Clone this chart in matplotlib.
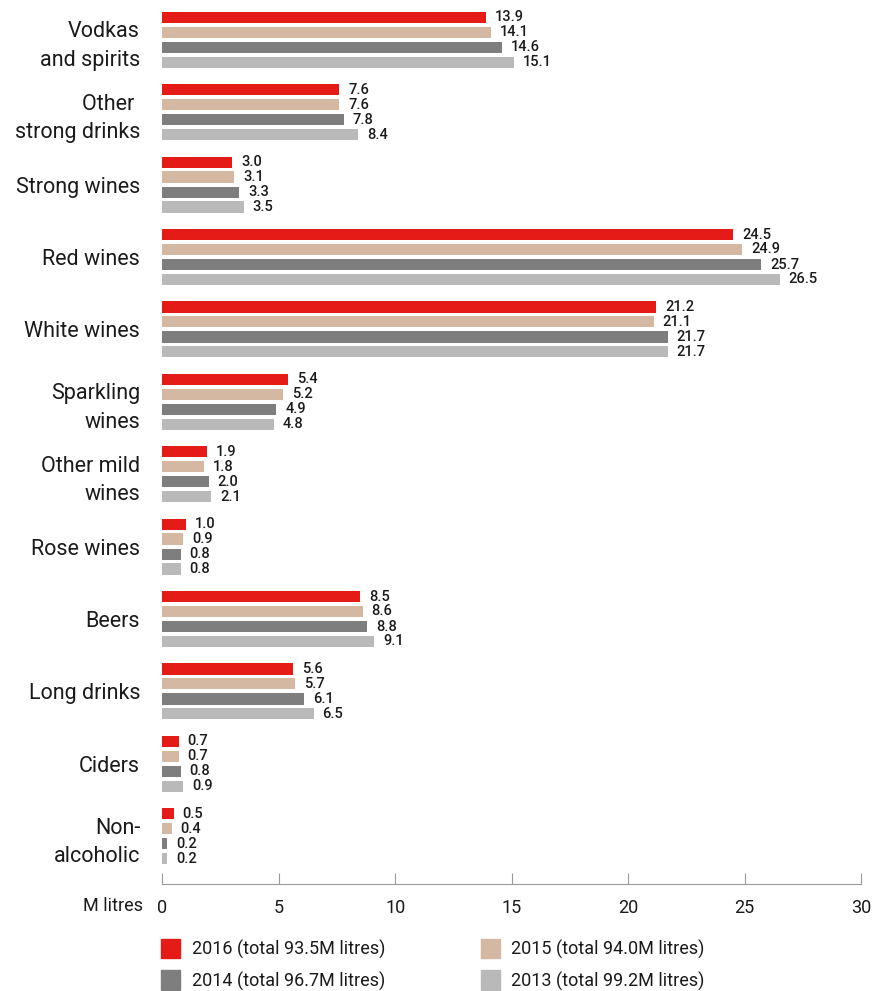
import numpy as np
import matplotlib.pyplot as plt
from matplotlib.patches import Patch

plt.rcParams['font.family'] = ['Roboto', 'DejaVu Sans']

categories = ["Vodkas\nand spirits", "Other \nstrong drinks", "Strong wines", "Red wines",
              "White wines", "Sparkling\nwines", "Other mild\nwines", "Rose wines",
              "Beers", "Long drinks", "Ciders", "Non-\nalcoholic"]
v2016 = [13.9, 7.6, 3.0, 24.5, 21.2, 5.4, 1.9, 1.0, 8.5, 5.6, 0.7, 0.5]
v2015 = [14.1, 7.6, 3.1, 24.9, 21.1, 5.2, 1.8, 0.9, 8.6, 5.7, 0.7, 0.4]
v2014 = [14.6, 7.8, 3.3, 25.7, 21.7, 4.9, 2.0, 0.8, 8.8, 6.1, 0.8, 0.2]
v2013 = [15.1, 8.4, 3.5, 26.5, 21.7, 4.8, 2.1, 0.8, 9.1, 6.5, 0.9, 0.2]
series_labels = ["2016 (total 93.5M litres)", "2015 (total 94.0M litres)",
                 "2014 (total 96.7M litres)", "2013 (total 99.2M litres)"]
colors = ["#e41b17", "#d5b8a2", "#7e7e7e", "#b9b9b9"]

fig = plt.figure(figsize=(8.77, 9.91), dpi=100)
ax = fig.add_axes([0.185, 0.108, 0.797, 0.892])

y = np.arange(len(categories))
offsets = [-0.31, -0.105, 0.105, 0.31]
series = [v2016, v2015, v2014, v2013]
for vals, off, col in zip(series, offsets, colors):
    ax.barh(y + off, vals, height=0.155, color=col)
    for yi, v in zip(y, vals):
        ax.text(v + 0.38, yi + off, f"{v:.1f}", va='center', ha='left',
                fontsize=10.5, color='#1a1a1a', fontweight='medium')

ax.set_ylim(11.66, -0.55)
ax.set_xlim(0, 30)
ax.set_yticks(y)
ax.set_yticklabels(categories, fontsize=15.5, color='#1a1a1a', ha='right',
                   multialignment='right', linespacing=1.45)
ax.tick_params(axis='y', length=0, pad=16)
ax.set_xticks(range(0, 31, 5))
ax.tick_params(axis='x', direction='in', length=8, color='#999999',
               labelsize=13, labelcolor='#1a1a1a', pad=11)
for s in ['top', 'right', 'left']:
    ax.spines[s].set_visible(False)
ax.spines['bottom'].set_color('#999999')
ax.text(-0.027, -0.0145, "M litres", transform=ax.transAxes, ha='right', va='top',
        fontsize=13, color='#1a1a1a')

handles = [Patch(color=c) for c in colors]
order = [0, 2, 1, 3]
fig.legend([handles[i] for i in order], [series_labels[i] for i in order],
           ncol=2, loc='lower left', bbox_to_anchor=(0.165, -0.016), frameon=False,
           fontsize=13, handlelength=1.05, handleheight=1.3, columnspacing=5.3,
           labelspacing=0.65, handletextpad=0.65, labelcolor='#1a1a1a')

fig.savefig("out.png", dpi=100)
